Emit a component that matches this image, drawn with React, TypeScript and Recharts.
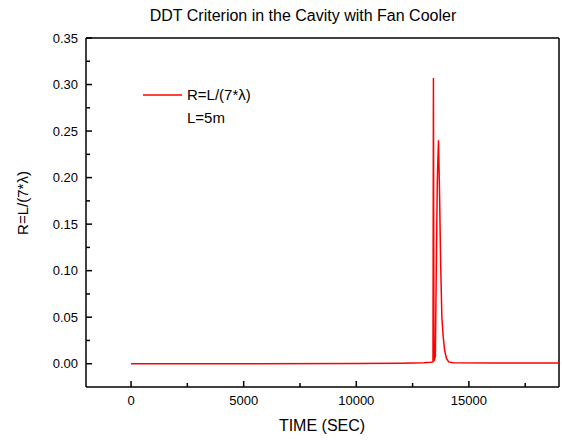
import { LineChart, Line, XAxis, YAxis, ReferenceLine } from 'recharts';

// time in seconds and R = L/(7*lambda)
const times = [
  0, 5000, 10000, 12000, 13000, 13300, 13405, 13425, 13450, 13510, 13560, 13600, 13650,
  13700, 13745, 13800, 13860, 13920, 14000, 14100, 14300, 16000, 19000,
];
const ratio = [
  0, 0, 0.0002, 0.0005, 0.001, 0.0015, 0.002, 0.307, 0.003, 0.008, 0.12, 0.2, 0.24,
  0.179, 0.108, 0.05, 0.029, 0.015, 0.006, 0.002, 0.001, 0.0008, 0.0008,
];

const xTicks = [0, 2500, 5000, 7500, 10000, 12500, 15000, 17500];
const xMajor = [0, 5000, 10000, 15000];
const yTicks = [0, 0.025, 0.05, 0.075, 0.1, 0.125, 0.15, 0.175, 0.2, 0.225, 0.25, 0.275, 0.3, 0.325, 0.35];
const yMajor = [0, 0.05, 0.1, 0.15, 0.2, 0.25, 0.3, 0.35];

const title = 'DDT Criterion in the Cavity with Fan Cooler';
const xTitle = 'TIME (SEC)';
const yTitle = 'R=L/(7*λ)';
const legendLines = ['R=L/(7*λ)', 'L=5m'];

const data = times.map((t, i) => ({ t, r: ratio[i] }));

const FONT = '"Liberation Sans", Arial, sans-serif';

const XTick = (props: any) => {
  const { x, y, payload } = props;
  const major = xMajor.includes(payload.value);
  return (
    <g>
      <line x1={x} x2={x} y1={y} y2={y - (major ? 6 : 4)} stroke="#000" strokeWidth={1.5} />
      {major && (
        <text x={x} y={y + 18} textAnchor="middle" fontSize={13} fontFamily={FONT} fill="#000">
          {payload.value}
        </text>
      )}
    </g>
  );
};

const YTick = (props: any) => {
  const { x, y, payload } = props;
  const major = yMajor.some((v) => Math.abs(v - payload.value) < 1e-9);
  return (
    <g>
      <line x1={x} x2={x + (major ? 6 : 4)} y1={y} y2={y} stroke="#000" strokeWidth={1.5} />
      {major && (
        <text x={x - 8} y={y + 4.5} textAnchor="end" fontSize={13} fontFamily={FONT} fill="#000">
          {payload.value.toFixed(2)}
        </text>
      )}
    </g>
  );
};

const LegendBox = () => (
  <div
    style={{
      position: 'absolute',
      left: 143,
      top: 83,
      fontFamily: FONT,
      fontSize: 15,
      color: '#000',
      lineHeight: '23px',
    }}
  >
    <div style={{ display: 'flex', alignItems: 'center' }}>
      <svg width={44} height={10}>
        <line x1={0} x2={39} y1={5} y2={5} stroke="#ff0000" strokeWidth={1.5} />
      </svg>
      <span>{legendLines[0]}</span>
    </div>
    <div style={{ paddingLeft: 44 }}>{legendLines[1]}</div>
  </div>
);

export default function App() {
  return (
    <div style={{ position: 'absolute', left: 0, top: 0, width: 562, height: 441, background: '#fff' }}>
      <LineChart width={562} height={441} data={data} margin={{ top: 38, right: 3, left: 0, bottom: 0 }}>
        <text x={303} y={21} textAnchor="middle" fontSize={16} fontFamily={FONT} fill="#000">
          {title}
        </text>
        <text x={322} y={431} textAnchor="middle" fontSize={16} fontFamily={FONT} fill="#000">
          {xTitle}
        </text>
        <text
          x={28}
          y={203}
          textAnchor="middle"
          fontSize={15}
          fontFamily={FONT}
          fill="#000"
          transform="rotate(-90 28 203)"
        >
          {yTitle}
        </text>
        <XAxis
          dataKey="t"
          type="number"
          domain={[-2000, 19000]}
          ticks={xTicks}
          allowDataOverflow
          height={54}
          tickSize={0}
          tickMargin={0}
          tickLine={false}
          axisLine={{ stroke: '#000', strokeWidth: 1.5 }}
          tick={<XTick />}
          interval={0}
        />
        <YAxis
          dataKey="r"
          type="number"
          domain={[-0.025, 0.35]}
          ticks={yTicks}
          allowDataOverflow
          width={86}
          tickSize={0}
          tickMargin={0}
          tickLine={false}
          axisLine={{ stroke: '#000', strokeWidth: 1.5 }}
          tick={<YTick />}
          interval={0}
        />
        <ReferenceLine y={0.35} stroke="#000" strokeWidth={1.5} />
        <ReferenceLine x={19000} stroke="#000" strokeWidth={1.5} />
        <Line
          type="linear"
          dataKey="r"
          stroke="#ff0000"
          strokeWidth={1.5}
          dot={false}
          isAnimationActive={false}
        />
      </LineChart>
      <LegendBox />
    </div>
  );
}
